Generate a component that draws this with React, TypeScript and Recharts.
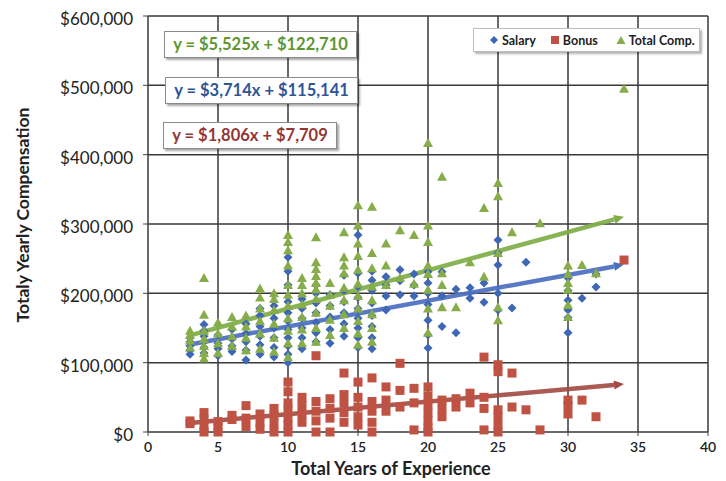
import React from "react";
import { ScatterChart, Scatter, XAxis, YAxis, CartesianGrid, ReferenceLine } from "recharts";

// values in $ thousands, grouped by years of experience
const salaryByYear: [number, number[]][] = [
  [3, [112, 118, 124, 130, 136]],
  [4, [114, 122, 130, 138, 146, 155]],
  [5, [110, 120, 128, 140]],
  [6, [116, 124, 134, 148]],
  [7, [104, 118, 130, 142, 156]],
  [8, [112, 126, 138, 152, 168, 178]],
  [9, [108, 122, 136, 150, 164, 182]],
  [10, [100, 112, 124, 136, 148, 160, 172, 188, 212, 232, 252]],
  [11, [120, 136, 150, 164, 178, 192]],
  [12, [130, 143, 158, 172, 186, 200, 212]],
  [13, [128, 148, 166, 182, 198]],
  [14, [138, 156, 172, 188, 204, 226]],
  [15, [122, 136, 150, 164, 178, 194, 210, 229, 284]],
  [16, [120, 136, 152, 168, 186, 204, 219, 232]],
  [17, [176, 196, 212, 224]],
  [18, [198, 218, 234]],
  [19, [196, 212, 228]],
  [20, [121, 140, 161, 184, 200, 215, 231]],
  [21, [152, 196, 231]],
  [22, [143, 206]],
  [23, [193, 208]],
  [24, [187, 215]],
  [25, [176, 200, 241, 258, 277]],
  [26, [179]],
  [27, [245]],
  [30, [143, 165, 176, 190, 204, 222]],
  [31, [193]],
  [32, [209, 228]],
];

const bonusByYear: [number, number[]][] = [
  [3, [12, 16]],
  [4, [0, 8, 18, 28]],
  [5, [0, 8, 15]],
  [6, [18, 24]],
  [7, [8, 20, 38]],
  [8, [4, 14, 26]],
  [9, [0, 12, 24, 34]],
  [10, [0, 10, 20, 32, 42, 58, 72]],
  [11, [14, 26, 38, 50]],
  [12, [0, 16, 30, 44, 110]],
  [13, [0, 20, 34, 48]],
  [14, [14, 28, 42, 54, 85]],
  [15, [10, 22, 36, 50, 72]],
  [16, [0, 14, 30, 44, 78]],
  [17, [30, 46, 65]],
  [18, [36, 60, 99]],
  [19, [3, 42, 63]],
  [20, [0, 6, 16, 28, 40, 52, 65]],
  [21, [22, 34, 46]],
  [22, [36, 48]],
  [23, [42, 56]],
  [24, [3, 34, 50, 108]],
  [25, [0, 10, 22, 32, 87, 97]],
  [26, [36, 85]],
  [27, [32]],
  [28, [3]],
  [30, [26, 38, 46]],
  [31, [46]],
  [32, [22]],
  [34, [248]],
];

const totalByYear: [number, number[]][] = [
  [3, [122, 132, 140, 146]],
  [4, [106, 114, 124, 134, 146, 169, 222]],
  [5, [114, 128, 142, 158]],
  [6, [124, 138, 152, 166]],
  [7, [118, 136, 152, 168]],
  [8, [120, 142, 160, 178, 194, 207]],
  [9, [116, 136, 156, 176, 192, 200]],
  [10, [108, 128, 146, 164, 182, 198, 212, 240, 262, 274, 284]],
  [11, [128, 148, 166, 184, 200, 212, 222]],
  [12, [130, 150, 172, 192, 206, 215, 225, 235, 245, 281]],
  [13, [140, 162, 182, 198, 215]],
  [14, [150, 170, 190, 208, 229, 240, 252, 288]],
  [15, [126, 142, 160, 178, 196, 214, 234, 254, 272, 298, 327]],
  [16, [130, 150, 170, 190, 210, 236, 258, 325]],
  [17, [212, 240, 272]],
  [18, [222, 291]],
  [19, [214, 284]],
  [20, [143, 178, 205, 228, 240, 274, 298, 417]],
  [21, [180, 212, 229, 368]],
  [22, [180]],
  [23, [245]],
  [24, [224, 323]],
  [25, [161, 180, 258, 340, 359]],
  [26, [288]],
  [28, [301]],
  [30, [166, 183, 205, 215, 228, 240]],
  [31, [241]],
  [32, [229]],
  [34, [495]],
];

// trendlines: Total, Salary, Bonus (slope $/yr, intercept $)
const trendSlopes = [5525, 3714, 1806];
const trendIntercepts = [122710, 115141, 7709];
const trendRange = [3, 34];

const xTicks = [0, 5, 10, 15, 20, 25, 30, 35, 40];
const yTicks = [0, 100, 200, 300, 400, 500, 600];

const SALARY = "#3f67b5";
const BONUS = "#bf5243";
const TOTAL = "#86ad4a";
const TREND_COLORS = ["#7fae48", "#4a6fbf", "#a34c43"];
const EQ_COLORS = ["#5e9632", "#2f5597", "#943634"];
const FONT = "Lato, 'Open Sans', sans-serif";

const flatten = (rows: [number, number[]][]) =>
  rows.flatMap(([x, ys]) => ys.map((y) => ({ x, y })));

const salaryData = flatten(salaryByYear);
const bonusData = flatten(bonusByYear);
const totalData = flatten(totalByYear);

const fmtMoney = (v: number) => "$" + v.toLocaleString("en-US");

const DiamondShape = (p: any) => {
  const { cx, cy } = p;
  const r = 4.5;
  return (
    <polygon
      points={`${cx},${cy - r} ${cx + r},${cy} ${cx},${cy + r} ${cx - r},${cy}`}
      fill={SALARY}
    />
  );
};

const SquareShape = (p: any) => {
  const { cx, cy } = p;
  return <rect x={cx - 4.5} y={cy - 4.5} width={9} height={9} fill={BONUS} />;
};

const TriangleShape = (p: any) => {
  const { cx, cy } = p;
  return (
    <polygon
      points={`${cx},${cy - 5} ${cx + 5},${cy + 4} ${cx - 5},${cy + 4}`}
      fill={TOTAL}
    />
  );
};

const arrowLine = (color: string) => (p: any) => {
  const { x1, y1, x2, y2 } = p;
  if (x1 == null) return null;
  const ang = Math.atan2(y2 - y1, x2 - x1);
  const len = 10;
  const w = 4.5;
  const bx = x2 - len * Math.cos(ang);
  const by = y2 - len * Math.sin(ang);
  const nx = -Math.sin(ang) * w;
  const ny = Math.cos(ang) * w;
  return (
    <g>
      <line x1={x1} y1={y1} x2={bx} y2={by} stroke={color} strokeWidth={4.5} strokeOpacity={0.92} />
      <polygon points={`${x2},${y2} ${bx + nx},${by + ny} ${bx - nx},${by - ny}`} fill={color} />
    </g>
  );
};

const eqBoxes = [
  { left: 164, top: 31, width: 193 },
  { left: 165, top: 77, width: 193 },
  { left: 163, top: 122, width: 174 },
];

const legendItems = [
  { name: "Salary", color: SALARY, kind: "diamond", gap: 14 },
  { name: "Bonus", color: BONUS, kind: "square", gap: 18 },
  { name: "Total Comp.", color: TOTAL, kind: "triangle", gap: 0 },
];

function LegendMark({ kind, color }: { kind: string; color: string }) {
  return (
    <svg width={10} height={10} style={{ marginRight: 3 }}>
      {kind === "diamond" && <polygon points="5,1 9,5 5,9 1,5" fill={color} />}
      {kind === "square" && <rect x={1} y={1} width={8} height={8} fill={color} />}
      {kind === "triangle" && <polygon points="5,1 9.5,9 0.5,9" fill={color} />}
    </svg>
  );
}

export default function App() {
  return (
    <div style={{ position: "absolute", left: 0, top: 0, width: 726, height: 481, background: "#fff", fontFamily: FONT }}>
      <ScatterChart width={726} height={481} margin={{ top: 16, right: 18, bottom: 0, left: 0 }}>
        <CartesianGrid stroke="#383838" strokeWidth={1.5} />
        <XAxis
          type="number"
          dataKey="x"
          domain={[0, 40]}
          ticks={xTicks}
          height={49}
          axisLine={false}
          tickSize={4}
          tickMargin={6}
          tickLine={{ stroke: "#444" }}
          tick={{ fontSize: 14, fill: "#222", fontFamily: FONT, fontWeight: 600 }}
        />
        <YAxis
          type="number"
          dataKey="y"
          domain={[0, 600]}
          ticks={yTicks}
          width={148}
          axisLine={false}
          tickSize={5}
          tickMargin={10}
          tickLine={{ stroke: "#444" }}
          tickFormatter={(v: number) => fmtMoney(v * 1000)}
          tick={{ fontSize: 17, fill: "#222", fontFamily: FONT, dy: 3 }}
        />
        <Scatter name="Salary" data={salaryData} shape={DiamondShape} isAnimationActive={false} />
        <Scatter name="Bonus" data={bonusData} shape={SquareShape} isAnimationActive={false} />
        <Scatter name="Total Comp." data={totalData} shape={TriangleShape} isAnimationActive={false} />
        {trendSlopes.map((m, i) => (
          <ReferenceLine
            key={i}
            segment={trendRange.map((x) => ({ x, y: (m * x + trendIntercepts[i]) / 1000 }))}
            shape={arrowLine(TREND_COLORS[i])}
          />
        ))}
      </ScatterChart>

      {eqBoxes.map((b, i) => (
        <div
          key={i}
          style={{
            position: "absolute",
            left: b.left,
            top: b.top,
            width: b.width,
            height: 27,
            boxSizing: "border-box",
            border: "1px solid #8a8a8a",
            background: "#fff",
            boxShadow: "2px 2px 2px rgba(0,0,0,0.35)",
            color: EQ_COLORS[i],
            fontSize: 16.5,
            fontWeight: 700,
            lineHeight: "25px",
            textAlign: "center",
            whiteSpace: "nowrap",
          }}
        >
          {`y = ${fmtMoney(trendSlopes[i])}x + ${fmtMoney(trendIntercepts[i])}`}
        </div>
      ))}

      <div
        style={{
          position: "absolute",
          left: 473,
          top: 28,
          width: 227,
          height: 24,
          boxSizing: "border-box",
          border: "1px solid #bdbdbd",
          background: "#fff",
          boxShadow: "2px 2px 2px rgba(0,0,0,0.3)",
          display: "flex",
          alignItems: "center",
          paddingLeft: 15,
          fontSize: 12.5,
          fontWeight: 700,
          color: "#222",
        }}
      >
        {legendItems.map((it) => (
          <span key={it.name} style={{ display: "flex", alignItems: "center", marginRight: it.gap }}>
            <LegendMark kind={it.kind} color={it.color} />
            {it.name}
          </span>
        ))}
      </div>

      <div
        style={{
          position: "absolute",
          left: 391,
          top: 468,
          transform: "translate(-50%, -50%)",
          fontSize: 18,
          fontWeight: 700,
          color: "#222",
          whiteSpace: "nowrap",
        }}
      >
        Total Years of Experience
      </div>
      <div
        style={{
          position: "absolute",
          left: 22,
          top: 215,
          transform: "translate(-50%, -50%) rotate(-90deg)",
          fontSize: 17.5,
          fontWeight: 700,
          color: "#222",
          whiteSpace: "nowrap",
        }}
      >
        Totaly Yearly Compensation
      </div>
    </div>
  );
}
